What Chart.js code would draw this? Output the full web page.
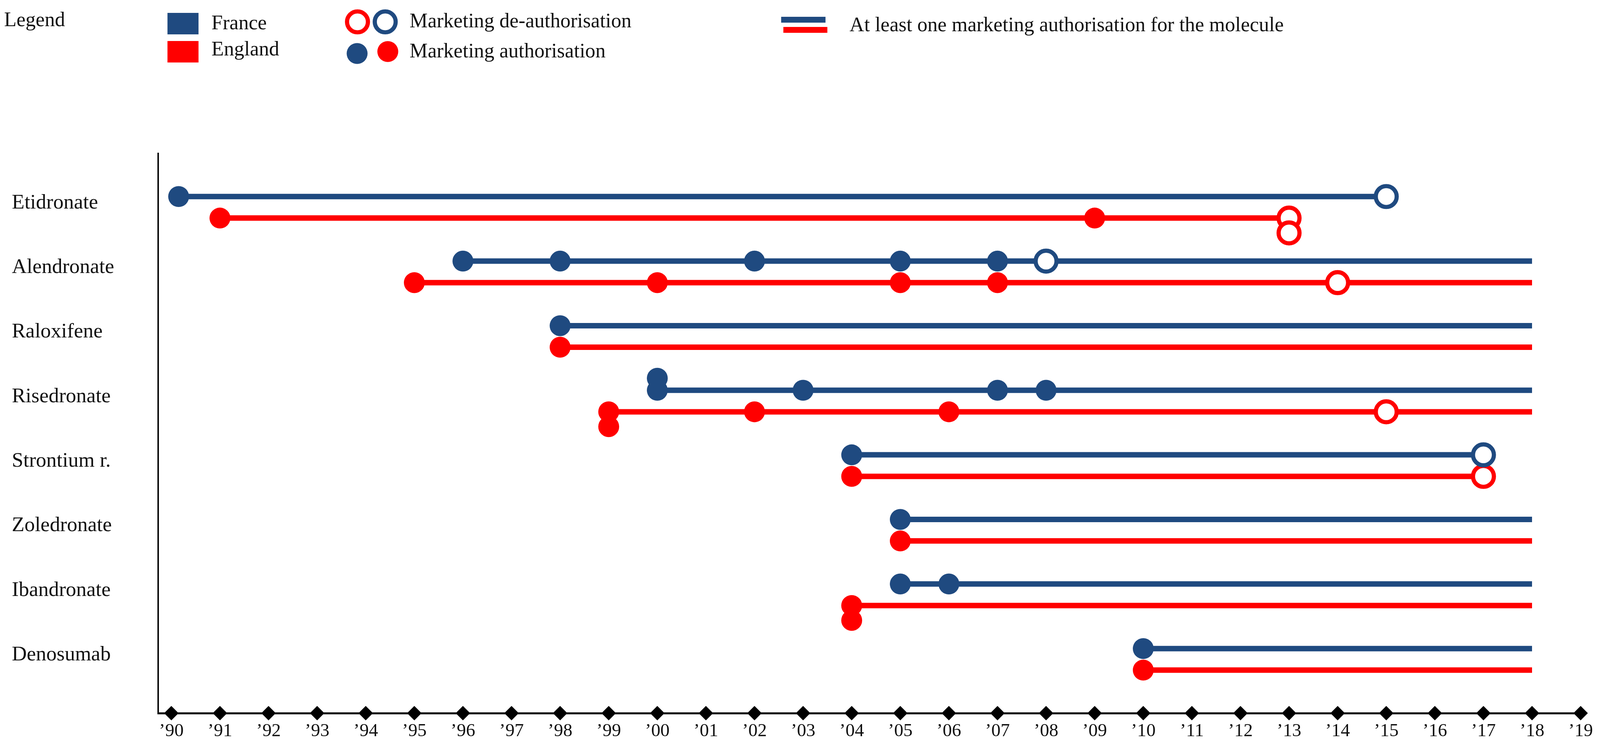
<!DOCTYPE html>
<html>
<head>
<meta charset="utf-8">
<title>Marketing authorisations, France and England</title>
<script src="https://cdn.jsdelivr.net/npm/chart.js@4.4.1/dist/chart.umd.min.js"></script>
<style>
  html, body { margin: 0; padding: 0; background: #fff; overflow: hidden; }
  #wrap { position: relative; }
  canvas { display: block; }
</style>
</head>
<body>
<div id="wrap"><canvas id="chart"></canvas></div>
<script>
// Data (years; a repeated year = two products in the same year)
const molecules = ['Etidronate', 'Alendronate', 'Raloxifene', 'Risedronate', 'Strontium r.', 'Zoledronate', 'Ibandronate', 'Denosumab'];

const franceStart  = [1990.15, 1996, 1998, 2000, 2004, 2005, 2005, 2010];
const franceEnd    = [2015, 2018, 2018, 2018, 2017, 2018, 2018, 2018];
const englandStart = [1991, 1995, 1998, 1999, 2004, 2005, 2004, 2010];
const englandEnd   = [2013, 2018, 2018, 2018, 2017, 2018, 2018, 2018];

const franceAuth = [[1990.15], [1996, 1998, 2002, 2005, 2007], [1998], [2000, 2000, 2003, 2007, 2008], [2004], [2005], [2005, 2006], [2010]];
const franceDeauth = [[2015], [2008], [], [], [2017], [], [], []];
const englandAuth = [[1991, 2009], [1995, 2000, 2005, 2007], [1998], [1999, 1999, 2002, 2006], [2004], [2005], [2004, 2004], [2010]];
const englandDeauth = [[2013, 2013], [2014], [], [2015], [2017], [], [], []];

const axisYears = [1990, 1991, 1992, 1993, 1994, 1995, 1996, 1997, 1998, 1999, 2000, 2001, 2002, 2003, 2004,
  2005, 2006, 2007, 2008, 2009, 2010, 2011, 2012, 2013, 2014, 2015, 2016, 2017, 2018, 2019];

const BLUE = '#1F4A80';
const RED = '#FF0000';
const FONT = '"Liberation Serif", "Times New Roman", serif';

// the layout was measured on a 4328 x 1905 page, scale it to the real viewport
const W = window.innerWidth;
const H = window.innerHeight;
const sx = W / 4328;
const sy = H / 1905;
const sf = Math.min(sx, sy);
const sm = Math.sqrt(sx * sy);
const wrap = document.getElementById('wrap');
wrap.style.width = W + 'px';
wrap.style.height = H + 'px';

Chart.defaults.font.family = FONT;
Chart.defaults.color = '#000';

// row layout on the y scale: France on 3*i, England on 3*i + 1
const rowY = (i, country) => 3 * i + (country === 'FR' ? 0 : 1);
const AXIS_Y = 24;

// events; the second one of the same year is pushed up (France) or down (England)
function eventPoints(list, country) {
  const pts = [];
  list.forEach((yrs, i) => {
    const seen = {};
    yrs.forEach(yr => {
      let y = rowY(i, country);
      if (seen[yr]) y += country === 'FR' ? -0.56 : 0.69;
      seen[yr] = true;
      pts.push({ x: yr, y: y });
    });
  });
  return pts;
}

const R = 27.5 * sm;
const RING = 11 * sm;
const BAR = 14 * sy;
const datasets = [];

// period bars
molecules.forEach((m, i) => {
  datasets.push({
    label: m + ' France',
    data: [{ x: franceStart[i], y: rowY(i, 'FR') }, { x: franceEnd[i], y: rowY(i, 'FR') }],
    showLine: true, borderColor: BLUE, borderWidth: BAR, borderCapStyle: 'butt',
    pointRadius: 0, order: 3
  });
  datasets.push({
    label: m + ' England',
    data: [{ x: englandStart[i], y: rowY(i, 'EN') }, { x: englandEnd[i], y: rowY(i, 'EN') }],
    showLine: true, borderColor: RED, borderWidth: BAR, borderCapStyle: 'butt',
    pointRadius: 0, order: 3
  });
});

datasets.push({
  label: 'France authorisation', data: eventPoints(franceAuth, 'FR'),
  pointRadius: R, backgroundColor: BLUE, borderWidth: 0, order: 1
});
datasets.push({
  label: 'England authorisation', data: eventPoints(englandAuth, 'EN'),
  pointRadius: R, backgroundColor: RED, borderWidth: 0, order: 1
});
datasets.push({
  label: 'France de-authorisation', data: eventPoints(franceDeauth, 'FR'),
  pointRadius: R, backgroundColor: '#fff', borderColor: BLUE, borderWidth: RING, order: 1
});
datasets.push({
  label: 'England de-authorisation', data: eventPoints(englandDeauth, 'EN'),
  pointRadius: R, backgroundColor: '#fff', borderColor: RED, borderWidth: RING, order: 1
});

// diamonds on the time axis
datasets.push({
  label: 'years', data: axisYears.map(yr => ({ x: yr, y: AXIS_Y })),
  pointStyle: 'rectRot', pointRadius: 19 * sm, backgroundColor: '#000', borderWidth: 0,
  clip: false, order: 0
});

// legend drawn by hand, it is not a standard Chart.js legend layout
const legendBox = {
  id: 'legendBox',
  afterDraw(chart) {
    const ctx = chart.ctx;
    const X = v => v * sx;
    const Y = v => v * sy;
    ctx.save();
    ctx.font = (55 * sf) + 'px ' + FONT;
    ctx.fillStyle = '#111';
    ctx.textBaseline = 'alphabetic';
    ctx.fillText('Legend', X(11), Y(67));

    ctx.fillStyle = BLUE;
    ctx.fillRect(X(453), Y(33), X(84), Y(55));
    ctx.fillStyle = RED;
    ctx.fillRect(X(453), Y(105), X(84), Y(55));
    ctx.fillStyle = '#111';
    ctx.fillText('France', X(572), Y(75));
    ctx.fillText('England', X(572), Y(142));

    const ring = (x, y, c) => {
      ctx.beginPath();
      ctx.arc(X(x), Y(y), R, 0, Math.PI * 2);
      ctx.fillStyle = '#fff';
      ctx.fill();
      ctx.lineWidth = RING;
      ctx.strokeStyle = c;
      ctx.stroke();
    };
    const dot = (x, y, c) => {
      ctx.beginPath();
      ctx.arc(X(x), Y(y), R, 0, Math.PI * 2);
      ctx.fillStyle = c;
      ctx.fill();
    };
    ring(967, 56, RED);
    ring(1042, 56, BLUE);
    dot(966, 137, BLUE);
    dot(1049, 132, RED);
    ctx.fillStyle = '#111';
    ctx.fillText('Marketing de-authorisation', X(1108), Y(70));
    ctx.fillText('Marketing authorisation', X(1108), Y(147));

    ctx.fillStyle = BLUE;
    ctx.fillRect(X(2113), Y(43), X(120), Y(15));
    ctx.fillStyle = RED;
    ctx.fillRect(X(2119), Y(69), X(119), Y(15));
    ctx.fillStyle = '#111';
    ctx.fillText('At least one marketing authorisation for the molecule', X(2298), Y(80));
    ctx.restore();
  }
};

new Chart(document.getElementById('chart'), {
  type: 'scatter',
  data: { datasets: datasets },
  plugins: [legendBox],
  options: {
    responsive: true,
    maintainAspectRatio: false,
    animation: false,
    events: [],
    layout: { padding: { left: 32 * sx, top: 393 * sy, right: 28 * sx, bottom: 0 } },
    plugins: { legend: { display: false }, tooltip: { enabled: false } },
    scales: {
      x: {
        type: 'linear',
        min: 1989.73,
        max: 2019.05,
        grid: { display: false, drawTicks: false },
        border: { display: true, color: '#000', width: 5 * sy },
        afterBuildTicks: scale => { scale.ticks = axisYears.map(v => ({ value: v })); },
        afterFit: scale => { scale.height = 79 * sy; },
        ticks: {
          autoSkip: false,
          maxRotation: 0,
          padding: 18 * sy,
          color: '#111',
          font: { size: 50 * sf },
          callback: v => '\u2019' + String(v).slice(2)
        }
      },
      y: {
        type: 'linear',
        min: -2,
        max: AXIS_Y,
        reverse: true,
        grid: { display: false, drawTicks: false },
        border: { display: true, color: '#000', width: 4 * sx },
        afterBuildTicks: scale => { scale.ticks = molecules.map((m, i) => ({ value: 3 * i + 0.3 })); },
        afterFit: scale => { scale.width = 396 * sx; },
        ticks: {
          autoSkip: false,
          crossAlign: 'far',
          color: '#111',
          font: { size: 56 * sf },
          callback: (v, i) => molecules[i]
        }
      }
    }
  }
});
</script>
</body>
</html>
